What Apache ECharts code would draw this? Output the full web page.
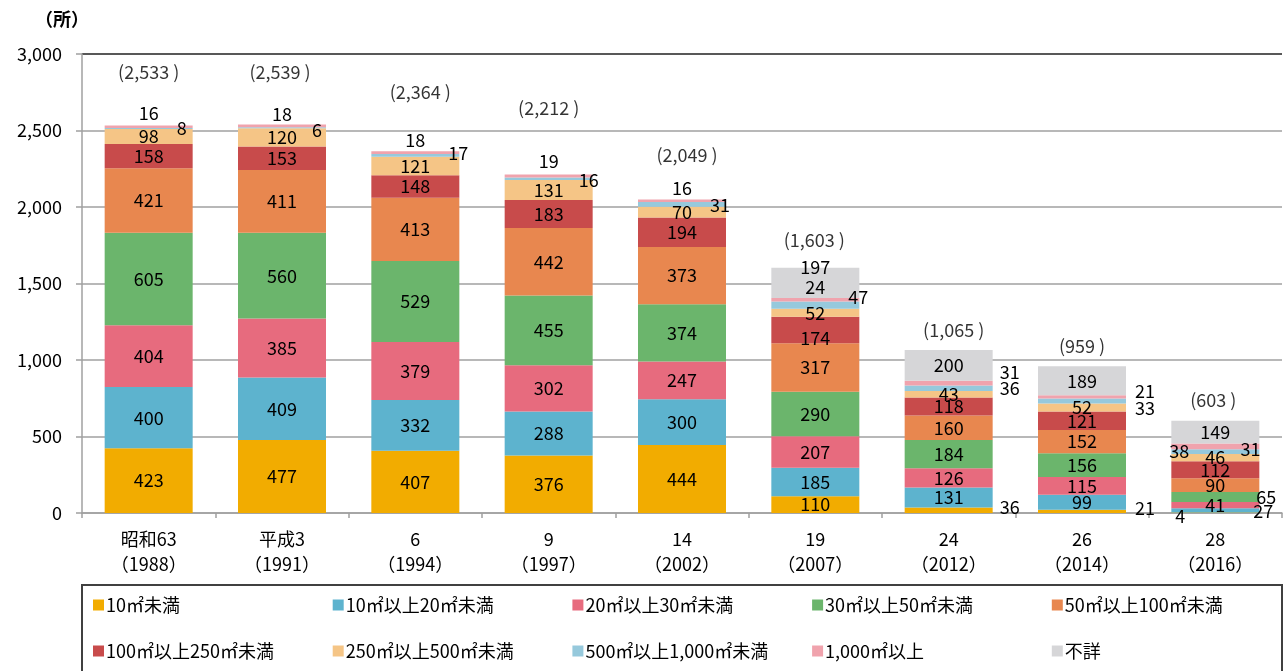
<!DOCTYPE html>
<html>
<head>
<meta charset="utf-8">
<script src="https://cdn.jsdelivr.net/npm/echarts@6/dist/echarts.min.js"></script>
<style>
  html, body { margin: 0; padding: 0; background: #fff; }
  #chart { width: 1285px; height: 671px; }
</style>
</head>
<body>
<div id="chart"></div>
<script>
// ---- data ----
const categories = ['昭和63\n（1988）', '平成3\n（1991）', '6\n（1994）', '9\n（1997）', '14\n（2002）', '19\n（2007）', '24\n（2012）', '26\n（2014）', '28\n（2016）'];
const seriesNames = ['10㎡未満', '10㎡以上20㎡未満', '20㎡以上30㎡未満', '30㎡以上50㎡未満', '50㎡以上100㎡未満',
                     '100㎡以上250㎡未満', '250㎡以上500㎡未満', '500㎡以上1,000㎡未満', '1,000㎡以上', '不詳'];
const under10      = [423, 477, 407, 376, 444, 110, 36, 21, 4];
const from10to20   = [400, 409, 332, 288, 300, 185, 131, 99, 27];
const from20to30   = [404, 385, 379, 302, 247, 207, 126, 115, 41];
const from30to50   = [605, 560, 529, 455, 374, 290, 184, 156, 65];
const from50to100  = [421, 411, 413, 442, 373, 317, 160, 152, 90];
const from100to250 = [158, 153, 148, 183, 194, 174, 118, 121, 112];
const from250to500 = [98, 120, 121, 131, 70, 52, 43, 52, 46];
const from500to1000 = [8, 6, 17, 16, 31, 47, 36, 33, 31];
const over1000     = [16, 18, 18, 19, 16, 24, 31, 21, 38];
const unknown      = [null, null, null, null, null, 197, 200, 189, 149];
const totals       = [2533, 2539, 2364, 2212, 2049, 1603, 1065, 959, 603];
const yAxisMin = 0, yAxisMax = 3000, yAxisStep = 500;

// ---- styling / layout ----
const colors = ['#F2AC00', '#5DB3CE', '#E76B7E', '#6BB56C', '#E8874F', '#C84B4B', '#F5C586', '#96C9DC', '#F0A3AD', '#D6D6D8'];
const FONT = "'Noto Sans CJK JP', sans-serif";
const FS = 18;
// label placement tweaks: [seriesIndex][categoryIndex]
const labelOverrides = {
  0: { 6: { position: 'right', distance: 7, offset: [0, -3] },
       7: { position: 'right', distance: 9, offset: [0, -3] },
       8: { position: ['10%', '50%'], offset: [0, 3] } },
  1: { 8: { position: ['100%', '50%'], offset: [4, 1] } },
  3: { 8: { position: ['100%', '50%'], offset: [7, 0] } },
  5: { 5: { offset: [0, 8] } },
  7: { 0: { position: ['100%', '50%'], offset: [-11, 0] },
       1: { position: ['100%', '50%'], offset: [-9, 2] },
       2: { position: ['100%', '50%'], offset: [-1, -2] },
       3: { position: ['100%', '50%'], offset: [-4, 1] },
       4: { position: ['100%', '50%'], offset: [-6, 1] },
       5: { position: ['100%', '50%'], offset: [-1, -8] },
       6: { position: 'right', distance: 7, offset: [0, 0] },
       7: { position: 'right', distance: 9, offset: [0, 7] },
       8: { position: ['90%', '50%'], offset: [0, -3] } },
  8: { 0: { position: 'top', distance: 3 },
       1: { position: 'top', distance: 1 },
       2: { position: 'top', distance: 2 },
       3: { position: 'top', distance: 4 },
       4: { position: 'top', distance: 2 },
       5: { position: ['50%', '50%'], offset: [0, -13] },
       6: { position: 'right', distance: 7, offset: [0, -11] },
       7: { position: 'right', distance: 9, offset: [0, -6] },
       8: { position: ['9%', '50%'], offset: [0, 5] } },
  9: { 5: { position: ['50%', '0%'], offset: [0, -1] } }
};
const totalLabelShift = [[0, -53], [-2, -52], [5, -59], [0, -66], [5, -44], [-1, -28], [5, -20], [0, -20], [-2, -21]];

const seriesValues = [under10, from10to20, from20to30, from30to50, from50to100,
                      from100to250, from250to500, from500to1000, over1000, unknown];

function buildLabel(o) {
  const l = Object.assign({}, o);
  if (Array.isArray(o.position)) { l.align = 'center'; l.verticalAlign = 'middle'; }
  return l;
}

const barSeries = seriesValues.map((vals, si) => ({
  name: seriesNames[si],
  type: 'bar',
  stack: 'total',
  barWidth: 88,
  itemStyle: { color: colors[si] },
  label: {
    show: true, position: 'inside', color: '#000', fontSize: FS, fontFamily: FONT,
    formatter: p => (p.value == null ? '' : String(p.value))
  },
  data: vals.map((v, ci) => {
    const o = (labelOverrides[si] || {})[ci];
    return o ? { value: v, label: buildLabel(o) } : v;
  })
}));

const totalSeries = {
  name: 'total',
  type: 'scatter',
  symbolSize: 1,
  itemStyle: { color: 'rgba(0,0,0,0)' },
  silent: true,
  label: {
    show: true, position: 'inside', color: '#000', fontSize: FS, fontFamily: FONT,
    formatter: p => '(' + p.value.toLocaleString('en-US') + ' )'
  },
  data: totals.map((t, i) => ({ value: t, label: { offset: totalLabelShift[i] } })),
  z: 5
};

const legendCols = [0, 1, 2, 3, 4].map(c => ({
  orient: 'vertical',
  left: 93 + 239.7 * c,
  top: 594,
  padding: 0,
  itemGap: 24,
  itemWidth: 11,
  itemHeight: 11,
  icon: 'rect',
  textStyle: { fontSize: FS, fontFamily: FONT, color: '#000', lineHeight: 22, padding: [0, 0, 0, -3] },
  data: [seriesNames[c], seriesNames[c + 5]]
}));

const chart = echarts.init(document.getElementById('chart'));
chart.setOption({
  animation: false,
  textStyle: { fontFamily: FONT },
  title: { text: '（所）', left: 30, top: 5, textStyle: { fontSize: 18, fontWeight: 'bold', color: '#000', fontFamily: FONT } },
  grid: { left: 82, right: 3, top: 54, bottom: 158, containLabel: false },
  legend: legendCols,
  graphic: [{
    type: 'rect', shape: { x: 82, y: 585, width: 1200, height: 90 },
    style: { fill: 'none', stroke: '#404040', lineWidth: 2 }, silent: true
  }],
  xAxis: {
    type: 'category',
    data: categories,
    axisLine: { lineStyle: { color: '#a0a0a0', width: 1.5 } },
    axisTick: { show: true, length: 5, lineStyle: { color: '#a0a0a0', width: 1.5 } },
    axisLabel: { color: '#000', fontSize: FS, lineHeight: 25, margin: 14, fontFamily: FONT }
  },
  yAxis: {
    type: 'value',
    min: yAxisMin, max: yAxisMax, interval: yAxisStep,
    axisLine: { show: true, lineStyle: { color: '#a0a0a0', width: 1.5 } },
    axisTick: { show: true, length: 6, lineStyle: { color: '#a0a0a0', width: 1.5 } },
    axisLabel: { color: '#000', fontSize: FS, margin: 20, fontFamily: FONT,
                 formatter: v => v.toLocaleString('en-US') },
    splitLine: { show: true, lineStyle: { color: ['#a0a0a0', '#a0a0a0', '#a0a0a0', '#a0a0a0', '#a0a0a0', '#a0a0a0', '#202020'], width: 1.5 } }
  },
  series: barSeries.concat([totalSeries])
});
</script>
</body>
</html>
